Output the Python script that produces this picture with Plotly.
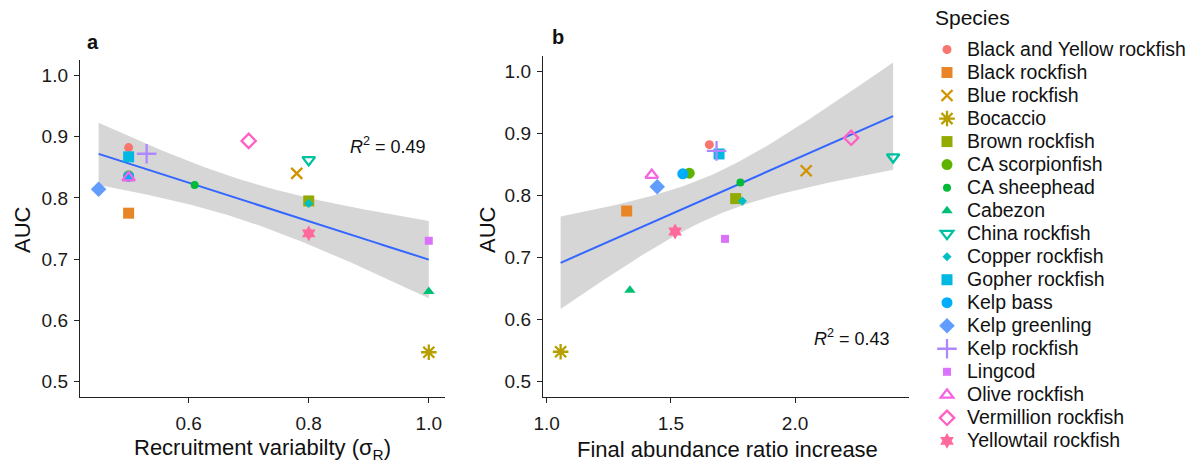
import math
import numpy as np
import plotly.graph_objects as go

# ---------------- data ----------------
species = [
    "Black and Yellow rockfish", "Black rockfish", "Blue rockfish", "Bocaccio",
    "Brown rockfish", "CA scorpionfish", "CA sheephead", "Cabezon",
    "China rockfish", "Copper rockfish", "Gopher rockfish", "Kelp bass",
    "Kelp greenling", "Kelp rockfish", "Lingcod", "Olive rockfish",
    "Vermillion rockfish", "Yellowtail rockfish",
]
auc = [0.882, 0.775, 0.840, 0.548, 0.795, 0.836, 0.821, 0.647, 0.862,
       0.791, 0.867, 0.835, 0.814, 0.872, 0.730, 0.833, 0.893, 0.742]
sigma_r = [0.50, 0.50, 0.78, 1.00, 0.80, 0.50, 0.61, 1.00, 0.80,
           0.80, 0.50, 0.50, 0.45, 0.53, 1.00, 0.50, 0.70, 0.80]
abund_ratio = [1.655, 1.322, 2.045, 1.056, 1.761, 1.574, 1.780, 1.335, 2.395,
               1.788, 1.694, 1.548, 1.445, 1.684, 1.718, 1.423, 2.226, 1.517]
r2_labels = ["0.49", "0.43"]
y_ticks = [0.5, 0.6, 0.7, 0.8, 0.9, 1.0]
xa_ticks = [0.6, 0.8, 1.0]
xb_ticks = [1.0, 1.5, 2.0]
legend_title = "Species"

# ---------------- styles ----------------
W, H = 1192, 461
FONT = "Liberation Sans, Arial, Helvetica, sans-serif"


def px(x):
    return x / W


def py(y):
    return 1 - y / H


def hcl_hex(h, c=100.0, l=65.0):
    hr = math.radians(h)
    U, V = c * math.cos(hr), c * math.sin(hr)
    Xn, Yn, Zn = 95.047, 100.0, 108.883
    den = Xn + 15 * Yn + 3 * Zn
    un, vn = 4 * Xn / den, 9 * Yn / den
    Y = Yn * ((l + 16) / 116) ** 3 if l > 7.999592 else Yn * l / 903.3
    u = U / (13 * l) + un
    v = V / (13 * l) + vn
    X = 9.0 * Y * u / (4 * v)
    Z = -X / 3 - 5 * Y + 3 * Y / v
    X, Y, Z = X / 100, Y / 100, Z / 100
    r = 3.240479 * X - 1.537150 * Y - 0.498535 * Z
    g = -0.969256 * X + 1.875992 * Y + 0.041556 * Z
    b = 0.055648 * X - 0.204043 * Y + 1.057311 * Z

    def gam(t):
        t = 12.92 * t if t <= 0.0031308 else 1.055 * t ** (1 / 2.4) - 0.055
        return int(round(min(max(t, 0), 1) * 255))
    return "#%02X%02X%02X" % (gam(r), gam(g), gam(b))


n = len(species)
colors = [hcl_hex(15 + 360 / n * i) for i in range(n)]

# symbol, size, open?
sym = [
    ("circle", 9, False), ("square", 11, False), ("x-thin-open", 11, True),
    ("asterisk-open", 13, True), ("square", 11, False), ("circle", 11, False),
    ("circle", 8, False), ("triangle-up", 10, False), ("triangle-down-open", 11, True),
    ("diamond", 7, False), ("square", 11, False), ("circle", 11, False),
    ("diamond", 12, False), ("cross-thin-open", 14, True), ("square", 8, False),
    ("triangle-up-open", 11, True), ("diamond-open", 11, True), ("hexagram", 12, False),
]

T_CRIT = 2.119905  # t(0.975, df=16)


def fit_band(x, y, m=100):
    x = np.asarray(x, float)
    y = np.asarray(y, float)
    k = len(x)
    b1, b0 = np.polyfit(x, y, 1)
    resid = y - (b0 + b1 * x)
    s = math.sqrt((resid ** 2).sum() / (k - 2))
    xbar = x.mean()
    sxx = ((x - xbar) ** 2).sum()
    xg = np.linspace(x.min(), x.max(), m)
    yg = b0 + b1 * xg
    se = s * np.sqrt(1 / k + (xg - xbar) ** 2 / sxx)
    return xg, yg, yg - T_CRIT * se, yg + T_CRIT * se


fig = go.Figure()

for xs, xa, ya in [(sigma_r, "x", "y"), (abund_ratio, "x2", "y2")]:
    xg, yg, lo, hi = fit_band(xs, auc)
    fig.add_trace(go.Scatter(
        x=np.concatenate([xg, xg[::-1]]), y=np.concatenate([hi, lo[::-1]]),
        fill="toself", fillcolor="rgba(153,153,153,0.4)", line=dict(width=0),
        mode="lines", showlegend=False, hoverinfo="skip", xaxis=xa, yaxis=ya))
    fig.add_trace(go.Scatter(
        x=xg, y=yg, mode="lines", line=dict(color="#3366FF", width=2),
        showlegend=False, hoverinfo="skip", xaxis=xa, yaxis=ya))

for i, sp in enumerate(species):
    s, sz, op = sym[i]
    mk = dict(symbol=s, size=sz, color=colors[i],
              line=dict(color=colors[i], width=2.3 if op else 0))
    label = '<span style="font-size:19.5px">%s</span>' % sp
    fig.add_trace(go.Scatter(
        x=[sigma_r[i]], y=[auc[i]], mode="markers", marker=mk, name=label,
        legendgroup=sp, showlegend=True, xaxis="x", yaxis="y"))
    fig.add_trace(go.Scatter(
        x=[abund_ratio[i]], y=[auc[i]], mode="markers", marker=mk, name=label,
        legendgroup=sp, showlegend=False, xaxis="x2", yaxis="y2"))

axis_common = dict(
    showline=True, linecolor="#222", linewidth=1.4, ticks="outside", ticklen=5,
    tickwidth=1.4, tickcolor="#222", showgrid=False, zeroline=False,
    tickfont=dict(family=FONT, size=19, color="#1a1a1a"), automargin=False,
)
xstyle = dict(axis_common, ticklabelstandoff=4)
ystyle = dict(axis_common, ticklabelstandoff=2)

fig.update_layout(
    width=W, height=H, margin=dict(l=0, r=0, t=0, b=0),
    paper_bgcolor="white", plot_bgcolor="white",
    font=dict(family=FONT, color="#111"),
    xaxis=dict(domain=[px(80), px(445)], range=[0.419, 1.027], anchor="y",
               tickvals=xa_ticks, ticktext=["%.1f" % v for v in xa_ticks], **xstyle),
    yaxis=dict(domain=[py(397), py(60)], range=[0.475, 1.025], anchor="x",
               tickvals=y_ticks, ticktext=["%.1f" % v for v in y_ticks], **ystyle),
    xaxis2=dict(domain=[px(543), px(909)], range=[0.985, 2.459], anchor="y2",
                tickvals=xb_ticks, ticktext=["%.1f" % v for v in xb_ticks], **xstyle),
    yaxis2=dict(domain=[py(397), py(56)], range=[0.475, 1.025], anchor="x2",
                tickvals=y_ticks, ticktext=["%.1f" % v for v in y_ticks], **ystyle),
    legend=dict(
        x=px(927), y=py(33), xanchor="left", yanchor="top",
        font=dict(family=FONT, size=15.4, color="#111"),
        bgcolor="rgba(0,0,0,0)", itemwidth=30, tracegroupgap=0,
    ),
)

ann = [
    dict(x=px(93), y=py(42), text="<b>a</b>", font=dict(size=20)),
    dict(x=px(558), y=py(37), text="<b>b</b>", font=dict(size=20)),
    dict(x=px(428), y=py(146), text="<i>R</i><sup>2</sup> = " + r2_labels[0],
         font=dict(size=18), xanchor="right"),
    dict(x=px(892), y=py(337), text="<i>R</i><sup>2</sup> = " + r2_labels[1],
         font=dict(size=18), xanchor="right"),
    dict(x=px(262), y=py(449), text="Recruitment variabilty (σ<sub>R</sub>)",
         font=dict(size=22)),
    dict(x=px(727), y=py(449), text="Final abundance ratio increase",
         font=dict(size=22)),
    dict(x=px(22), y=py(230), text="AUC", textangle=-90, font=dict(size=22)),
    dict(x=px(487), y=py(230), text="AUC", textangle=-90, font=dict(size=22)),
    dict(x=px(933), y=py(17), text=legend_title, font=dict(size=21), xanchor="left"),
]
for a in ann:
    a.setdefault("xanchor", "center")
    a.update(xref="paper", yref="paper", yanchor="middle", showarrow=False)
    a["font"].update(family=FONT, color="#111")
fig.update_layout(annotations=ann)

fig.write_html(
    "out.html",
    config={"displayModeBar": False},
    post_script="document.body.style.margin='0';document.body.style.overflow='hidden';",
)
